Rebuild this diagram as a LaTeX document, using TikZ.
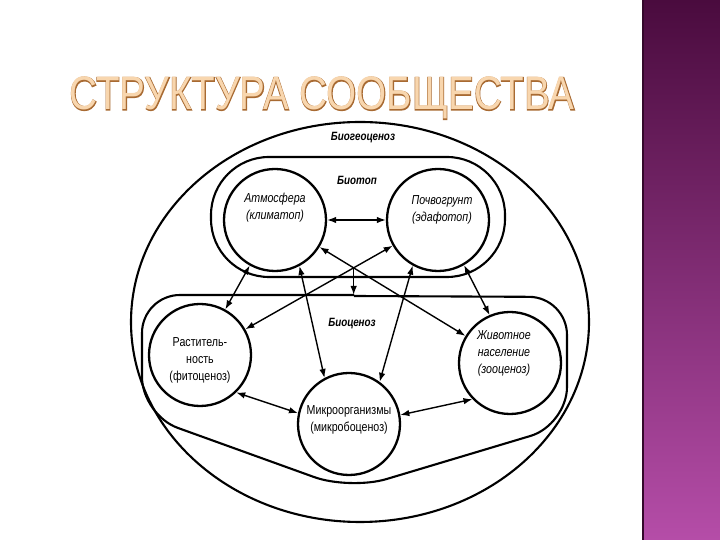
\documentclass[tikz,border=0pt]{standalone}
\usepackage{graphicx}
\usepackage{fontspec}
\setmainfont{Liberation Sans}
\newfontfamily\diagfont[FakeStretch=0.82]{Liberation Sans}
\newfontfamily\titlefont{Liberation Sans}
\newfontfamily\titleedge[FakeBold=3]{Liberation Sans}
\usepackage{tikz}
\usetikzlibrary{positioning}
\usetikzlibrary{arrows.meta}
\usepackage{xcolor}
\definecolor{titlefill}{HTML}{F8D6AE}
\definecolor{titleline}{HTML}{A86A32}
\definecolor{bartop}{HTML}{4A0B3E}
\definecolor{barbot}{HTML}{B54DA8}
\newcommand{\titletext}{СТРУКТУРА СООБЩЕСТВА}

\begin{document}
\begin{tikzpicture}[x=1pt,y=1pt,
    circ/.style={draw, line width=2.3pt, circle, minimum size=102pt, inner sep=0pt},
    lbl/.style={align=center, font=\diagfont\fontsize{13}{17}\selectfont},
    lbli/.style={lbl, font=\diagfont\itshape\fontsize{13}{17}\selectfont},
    zone/.style={font=\diagfont\bfseries\itshape\fontsize{12}{14}\selectfont},
    border/.style={line width=2.1pt},
    link/.style={{Latex[length=9pt,width=6.5pt]}-{Latex[length=9pt,width=6.5pt]}, line width=1.4pt},
    onelink/.style={-{Latex[length=9pt,width=6.5pt]}, line width=1.4pt}]
    \fill[white] (0,0) rectangle (720,540);
    \useasboundingbox (0,0) rectangle (720,540);

    % Purple side bar
    \shade[top color=bartop, bottom color=barbot] (643,0) rectangle (720,540);
    \draw[line width=1.5pt, bartop!70!black] (643,0) -- (643,540);

    % Title
    \node[anchor=base, text=titleline] (ttlB) at (322,430)
        {\resizebox{505pt}{\height}{\titleedge\fontsize{47}{47}\selectfont\titletext}};
    \node[anchor=base, text=titlefill] (ttl) at (322,430)
        {\resizebox{505pt}{\height}{\titlefont\fontsize{47}{47}\selectfont\titletext}};

    % Biogeocenosis
    \draw[border] (360,218) ellipse [x radius=229, y radius=200];
    \node[zone] (bgc) at (363,402) {Биогеоценоз};

    % Biotope
    \draw[border, rounded corners=58] (211,263) rectangle (505,383);
    \node[zone] (btp) at (357,360) {Биотоп};

    % Biocenosis
    \coordinate (bcTL) at (142,245);
    \coordinate (bcTR) at (567,243);
    \coordinate (bcBR) at (567,115);
    \coordinate (bcB) at (350,50);
    \coordinate (bcBL) at (142,125);
    \draw[border, rounded corners=38] (354,244) -- (bcTR) -- (bcBR) -- (bcB) -- (bcBL) -- (bcTL) -- (354,245);
    \node[zone] (bcn) at (352,216) {Биоценоз};

    % Components
    \node[circ] (atm) at (275,320) {};
    \node[circ] (soil) at (438,320) {};
    \node[circ] (plant) at (200,185) {};
    \node[circ] (fauna) at (510,177) {};
    \node[circ] (micro) at (349,116) {};
    \node[lbli] (atmT) at ([yshift=12]atm) {Атмосфера\\(климатоп)};
    \node[lbli] (soilT) at ([xshift=4,yshift=10]soil) {Почвогрунт\\(эдафотоп)};
    \node[lbl] (plantT) at ([yshift=-5]plant) {Раститель-\\ность\\(фитоценоз)};
    \node[lbli] (faunaT) at ([xshift=-6,yshift=10]fauna) {Животное\\население\\(зооценоз)};
    \node[lbl] (microT) at ([yshift=4]micro) {Микроорганизмы\\(микробоценоз)};

    % Links
    \draw[link] (atm) -- (soil);
    \draw[link] (atm) -- (fauna);
    \draw[link] (soil) -- (plant);
    \draw[link] (atm) -- (plant);
    \draw[link] (atm.-62) -- (micro.118);
    \draw[link] (soil.-119) -- (micro.54);
    \draw[link] (soil.-60) -- (fauna.113);
    \draw[link] (plant.-46) -- (micro.168);
    \draw[link] (micro.10) -- (fauna.-136);
    \coordinate (cross) at (intersection of atm--fauna and soil--plant);
    \draw[onelink] (cross) -- (cross |- bcTL);
\end{tikzpicture}
\end{document}
